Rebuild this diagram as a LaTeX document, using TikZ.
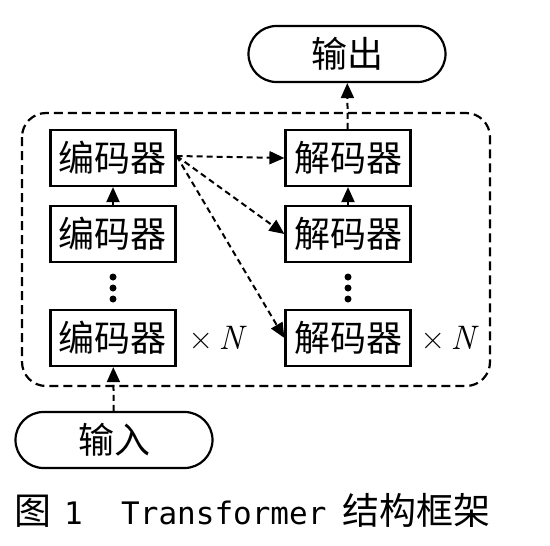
\documentclass[tikz,border=0pt]{standalone}
\usepackage{fontspec}
\newfontfamily\cjk{Noto Sans CJK SC}
\newfontfamily\mono{DejaVu Sans Mono}
\usetikzlibrary{arrows.meta,shapes.misc}
\begin{document}
\begin{tikzpicture}[x=1pt,y=-1pt,
  blk/.style={draw,line width=2.2pt,minimum width=125pt,minimum height=56pt,inner sep=0pt,font=\cjk\fontsize{36}{40}\selectfont},
  term/.style={draw,line width=2.2pt,rounded rectangle,minimum width=197pt,minimum height=56pt,inner sep=0pt,font=\cjk\fontsize{36}{40}\selectfont},
  darr/.style={line width=2pt,dash pattern=on 6pt off 4pt,-{Triangle[length=15pt,width=13pt]}},
  sarr/.style={line width=2pt,-{Triangle[length=15pt,width=13pt]}},
  lbl/.style={font=\fontsize{34}{40}\selectfont,inner sep=0pt},
  dot/.style={fill,circle,inner sep=0pt,minimum size=7pt}]
\useasboundingbox (0,0) rectangle (550,546);
\draw[line width=2.2pt,dash pattern=on 9pt off 5pt,rounded corners=24pt] (22,113) rectangle (490,386);
\node[term] (out) at (347,54) {输出};
\node[term] (inp) at (114,440) {输入};
\node[blk] (e1) at (113,158) {编码器};
\node[blk] (e2) at (113,234) {编码器};
\node[blk] (e3) at (113,338) {编码器};
\node[blk] (d1) at (348,158) {解码器};
\node[blk] (d2) at (348,234) {解码器};
\node[blk] (d3) at (348,338) {解码器};
\node[lbl] (n1) at (216,338) {×\,{\itshape N}};
\node[lbl] (n2) at (448,338) {×\,{\itshape N}};
\foreach \y [count=\i] in {277,288,299}{
  \node[dot] (ed\i) at (113,\y) {};
  \node[dot] (dd\i) at (348,\y) {};
}
\coordinate (s) at ([yshift=2pt]e1.east);
\draw[sarr] (e2) -- (e1);
\draw[sarr] (d2) -- (d1);
\draw[darr] (s) -- (d1.west);
\draw[darr] (s) -- (d2.west);
\draw[darr] (s) -- (d3.west);
\draw[darr] (inp) -- (e3);
\draw[darr] (d1) -- (out);
\node[anchor=base west,inner sep=0pt,font=\cjk\fontsize{37}{40}\selectfont] (c1) at (14,524) {图};
\node[anchor=base west,inner sep=0pt,font=\mono\fontsize{31}{40}\selectfont] (c2) at (64,524) {1};
\node[anchor=base west,inner sep=0pt,font=\mono\fontsize{31}{40}\selectfont] (c3) at (121,524) {Transformer};
\node[anchor=base west,inner sep=0pt,font=\cjk\fontsize{37}{40}\selectfont] (c4) at (342,524) {结构框架};
\end{tikzpicture}
\end{document}
